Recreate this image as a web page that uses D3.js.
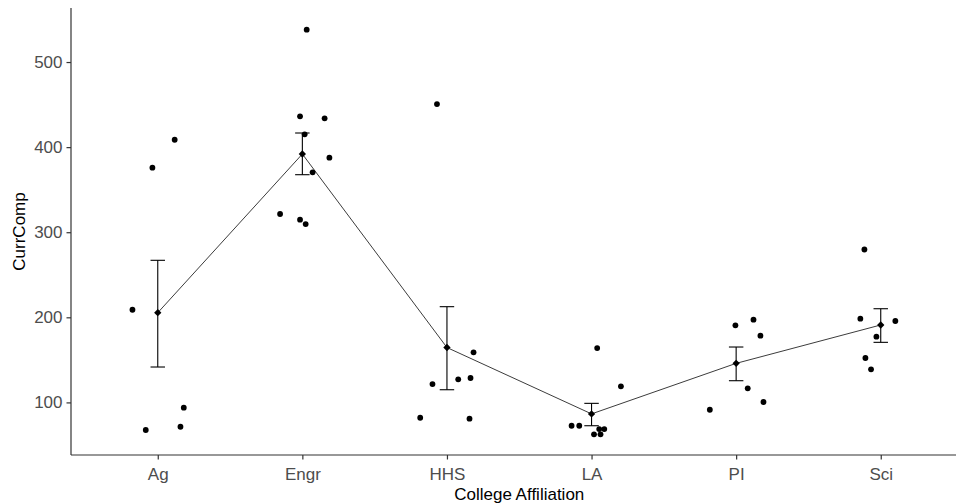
<!DOCTYPE html>
<html>
<head>
<meta charset="utf-8">
<script src="https://cdnjs.cloudflare.com/ajax/libs/d3/7.8.5/d3.min.js"></script>
<style>
body{margin:0;padding:0;background:#fff;overflow:hidden;}
svg{display:block;font-family:"Liberation Sans",Arial,sans-serif;}
</style>
</head>
<body>
<div id="chart"></div>
<script>
// categories on the x axis
var colleges = ["Ag", "Engr", "HHS", "LA", "PI", "Sci"];
var yTicks = [100, 200, 300, 400, 500];

// raw observations per college, and their horizontal jitter (in category units)
var agVals   = [375.8, 408.7, 208.9, 67.6, 71.4, 93.8];
var agJit    = [-0.037, 0.117, -0.175, -0.083, 0.157, 0.180];
var engrVals = [538, 436.2, 433.8, 415, 387.6, 370.4, 321.4, 314.7, 309.6];
var engrJit  = [0.030, -0.016, 0.154, 0.016, 0.187, 0.071, -0.154, -0.016, 0.023];
var hhsVals  = [450.6, 158.9, 121.6, 127.1, 128.7, 82, 80.9];
var hhsJit   = [-0.069, 0.184, -0.100, 0.078, 0.163, -0.185, 0.156];
var laVals   = [163.9, 118.9, 72.6, 72.6, 68.7, 68.7, 62.5, 62.5];
var laJit    = [0.039, 0.203, -0.138, -0.085, 0.053, 0.088, 0.017, 0.062];
var piVals   = [190.6, 197.2, 178.4, 116.6, 100.5, 91.4];
var piJit    = [-0.005, 0.120, 0.168, 0.080, 0.189, -0.182];
var sciVals  = [279.7, 198.4, 195.7, 177.2, 152.2, 138.9];
var sciJit   = [-0.113, -0.141, 0.101, -0.030, -0.106, -0.067];

// summary: mean and error bar ends
var means  = [205.4, 391.9, 164.5, 86.5, 145.9, 191];
var lowers = [141.6, 367.6, 114.9, 72.6, 125.5, 170.6];
var uppers = [267, 416.6, 212.5, 98.9, 165.1, 210.1];

(function(){
    var W = 956, H = 503;
    var left = 71, right = 967.5, top = 8, bottom = 455;

    var allVals = [agVals, engrVals, hhsVals, laVals, piVals, sciVals];
    var allJit = [agJit, engrJit, hhsJit, laJit, piJit, sciJit];
    var points = [];
    colleges.forEach(function(c, i){
        allVals[i].forEach(function(v, j){
            points.push({c: c, v: v, j: allJit[i][j]});
        });
    });
    var summary = colleges.map(function(c, i){
        return {c: c, m: means[i], lo: lowers[i], hi: uppers[i]};
    });

    var x = d3.scalePoint().domain(colleges).range([left, right]).padding(0.6);
    var step = x.step();
    var y = d3.scaleLinear().domain([38.2, 563.5]).range([bottom, top]);

    var svg = d3.select("#chart").append("svg")
        .attr("width", W).attr("height", H);

    // line through the means
    var line = d3.line()
        .x(function(d){return x(d.c);})
        .y(function(d){return y(d.m);});
    svg.append("path").datum(summary)
        .attr("d", line)
        .attr("fill", "none")
        .attr("stroke", "#3c3c3c")
        .attr("stroke-width", 1);

    // error bars
    var eb = svg.append("g").selectAll("g").data(summary).enter().append("g")
        .attr("stroke", "#000").attr("stroke-width", 1.1).attr("fill", "none");
    eb.append("line")
        .attr("x1", function(d){return x(d.c);})
        .attr("x2", function(d){return x(d.c);})
        .attr("y1", function(d){return y(d.lo);})
        .attr("y2", function(d){return y(d.hi);});
    ["lo", "hi"].forEach(function(k){
        eb.append("line")
            .attr("x1", function(d){return x(d.c) - step*0.05;})
            .attr("x2", function(d){return x(d.c) + step*0.05;})
            .attr("y1", function(d){return y(d[k]);})
            .attr("y2", function(d){return y(d[k]);});
    });

    // jittered points
    svg.append("g").selectAll("circle").data(points).enter().append("circle")
        .attr("cx", function(d){return x(d.c) + d.j*step;})
        .attr("cy", function(d){return y(d.v);})
        .attr("r", 2.9)
        .attr("fill", "#000");

    // mean diamonds
    svg.append("g").selectAll("path").data(summary).enter().append("path")
        .attr("d", d3.symbol().type(d3.symbolDiamond2).size(34))
        .attr("transform", function(d){return "translate(" + x(d.c) + "," + y(d.m) + ")";})
        .attr("fill", "#000");

    // axes
    var xAxis = svg.append("g")
        .attr("transform", "translate(0," + bottom + ")")
        .call(d3.axisBottom(x).tickSize(4.5).tickPadding(8).tickSizeOuter(0));
    var yAxis = svg.append("g")
        .attr("transform", "translate(" + left + ",0)")
        .call(d3.axisLeft(y).tickValues(yTicks).tickSize(4.5).tickPadding(4).tickSizeOuter(0));
    [xAxis, yAxis].forEach(function(a){
        a.select(".domain").attr("stroke", "#333").attr("stroke-width", 1.2);
        a.selectAll(".tick line").attr("stroke", "#333").attr("stroke-width", 1.2);
        a.selectAll(".tick text").attr("fill", "#4d4d4d")
            .style("font-size", "17px")
            .style("font-family", "'Liberation Sans', Arial, sans-serif");
    });
    yAxis.select(".domain").attr("d", "M0," + top + "V" + bottom);
    xAxis.select(".domain").attr("d", "M" + left + ",0H" + right);

    svg.append("text")
        .attr("x", (left + right) / 2)
        .attr("y", 500)
        .attr("text-anchor", "middle")
        .attr("font-size", "17px")
        .attr("fill", "#000")
        .text("College Affiliation");
    svg.append("text")
        .attr("transform", "translate(25," + (top + bottom) / 2 + ") rotate(-90)")
        .attr("text-anchor", "middle")
        .attr("font-size", "17px")
        .attr("fill", "#000")
        .text("CurrComp");
})();
</script>
</body>
</html>
